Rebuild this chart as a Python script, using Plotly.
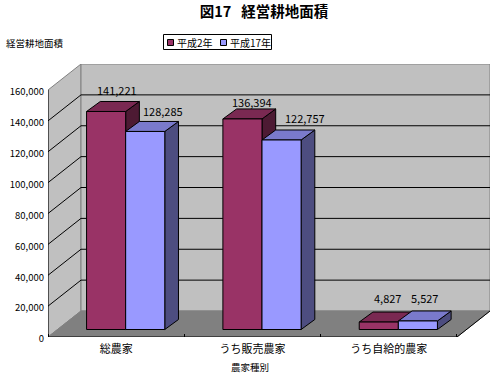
import plotly.graph_objects as go

title = "図17\u00a0\u00a0\u00a0経営耕地面積"
y_title = "経営耕地面積"
x_title = "農家種別"
categories = ["総農家", "うち販売農家", "うち自給的農家"]
series_names = ["平成2年", "平成17年"]
values_h2 = [141221, 136394, 4827]
values_h17 = [128285, 122757, 5527]
y_ticks = [0, 20000, 40000, 60000, 80000, 100000, 120000, 140000, 160000]

# geometry (pseudo-3D in axis units)
FONT = "Noto Sans CJK JP"
PX_Y = 160000 / 247
PX_X = 1 / 136.33
W, H = 499, 374
L, R, T, B = 48, 490, 64, 337
xmax = (R - L) * PX_X
ymax = (B - T) * PX_Y
wall_dx, wall_dy = 33 * PX_X, 26 * PX_Y
front_dx, front_dy = 9.5 * PX_X, 7.5 * PX_Y
bar_dx, bar_dy = 13.7 * PX_X, 10 * PX_Y
bar_w = 39.1 * PX_X
n = len(categories)
ytop = y_ticks[-1]

fills = {
    series_names[0]: ("#993366", "#7A2952", "#4D1A33"),
    series_names[1]: ("#9999FF", "#7A7ACC", "#4D4D80"),
}
# label offsets from bar-top centre, px
offsets = [[(11, 21), (18, 20)], [(10, 17), (23, 22)], [(9, 24), (6.5, 23)]]


def px(x):
    return (x - L) / (R - L)


def py(y):
    return (B - y) / (B - T)


fig = go.Figure()


def poly(xs, ys, fill=None, line="black", width=1):
    fig.add_trace(go.Scatter(
        x=xs, y=ys, mode="lines", showlegend=False, hoverinfo="skip",
        fill="toself" if fill else None, fillcolor=fill,
        line=dict(color=line, width=width),
    ))


# walls and floor
poly([0, wall_dx, wall_dx, 0, 0], [0, wall_dy, ytop + wall_dy, ytop, 0], "#C0C0C0", "#808080")
poly([wall_dx, xmax, xmax, wall_dx, wall_dx],
     [wall_dy, wall_dy, ytop + wall_dy, ytop + wall_dy, wall_dy], "#C0C0C0", "#808080")
poly([0, n, n + wall_dx, wall_dx, 0], [0, 0, wall_dy, wall_dy, 0], "#808080", "#808080")

# gridlines
for t in y_ticks[1:-1]:
    poly([0, wall_dx, xmax], [t, t + wall_dy, t + wall_dy])
poly([0, 0], [0, ytop])
poly([0, n, n + wall_dx], [0, 0, wall_dy])

# bars
annotations = []
for i in range(n):
    for s, (name, vals) in enumerate(zip(series_names, [values_h2, values_h17])):
        v = vals[i]
        front, topc, side = fills[name]
        x0 = i + 0.5 + front_dx + (s - 1) * bar_w
        x1 = x0 + bar_w
        y0 = front_dy
        y1 = front_dy + v
        poly([x1, x1 + bar_dx, x1 + bar_dx, x1, x1],
             [y0, y0 + bar_dy, y1 + bar_dy, y1, y0], side)
        poly([x0, x1, x1 + bar_dx, x0 + bar_dx, x0],
             [y1, y1, y1 + bar_dy, y1 + bar_dy, y1], topc)
        poly([x0, x1, x1, x0, x0], [y0, y0, y1, y1, y0], front)
        ox, oy = offsets[i][s]
        annotations.append(dict(
            x=(x0 + x1) / 2, y=y1, text=f"{v:,}", showarrow=False,
            xshift=ox, yshift=oy, xanchor="center", yanchor="middle",
            font=dict(family=FONT, size=11, color="black"),
        ))

annotations += [
    dict(xref="paper", yref="paper", x=px(6), y=py(43), xshift=-2,
         text=y_title, showarrow=False, xanchor="left", yanchor="middle",
         font=dict(family=FONT, size=9.5, color="black")),
    dict(xref="paper", yref="paper", x=px(250), y=py(367),
         text=x_title, showarrow=False, xanchor="center", yanchor="middle",
         font=dict(family=FONT, size=9.5, color="black")),
]

# legend box
shapes = [dict(type="rect", xref="paper", yref="paper", x0=px(163.5), x1=px(271.5),
               y0=py(49.5), y1=py(34.5), line=dict(color="black", width=1), fillcolor="white")]
for name, sw_x, text_x in zip(series_names, [167, 220], [176, 229]):
    shapes.append(dict(type="rect", xref="paper", yref="paper", x0=px(sw_x + 0.5), x1=px(sw_x + 6.5),
                       y0=py(45.5), y1=py(39.5), line=dict(color="black", width=1),
                       fillcolor=fills[name][0]))
    annotations.append(dict(xref="paper", yref="paper", x=px(text_x), y=py(42),
                            text=name, showarrow=False, xanchor="left", yanchor="middle",
                            xshift=-1, font=dict(family=FONT, size=10, color="black")))

fig.update_layout(
    width=W, height=H,
    margin=dict(l=L, r=W - R, t=T, b=H - B, pad=0),
    paper_bgcolor="white", plot_bgcolor="white",
    showlegend=False,
    title=dict(text=f"<b>{title}</b>", x=264 / W, xanchor="center", y=1 - 12 / H,
               yanchor="middle", font=dict(family=FONT, size=14.5, color="black")),
    annotations=annotations,
    shapes=shapes,
    xaxis=dict(range=[0, xmax], showgrid=False, zeroline=False, showline=False,
               tickmode="array", tickvals=[i + 0.5 for i in range(n)], ticktext=categories,
               ticks="", ticklabelstandoff=4, tickfont=dict(family=FONT, size=11, color="black"),
               minor=dict(tickmode="array", tickvals=list(range(n + 1)), ticks="inside",
                          ticklen=3, tickcolor="black", tickwidth=1, showgrid=False)),
    yaxis=dict(range=[0, ymax], showgrid=False, zeroline=False, showline=False,
               tickmode="array", tickvals=y_ticks, tickformat=",",
               ticks="", ticklabelstandoff=3, ticklabelshift=2,
               tickfont=dict(family=FONT, size=9.5, color="black")),
)

fig.write_html("out.html", config={"displayModeBar": False},
               post_script="document.body.style.margin='0';")
